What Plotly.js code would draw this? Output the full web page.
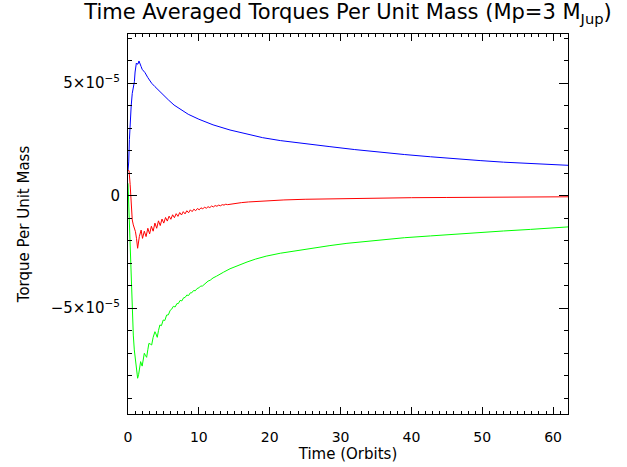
<!DOCTYPE html>
<html>
<head>
<meta charset="utf-8">
<script src="https://cdn.plot.ly/plotly-3.0.1.min.js"></script>
<style>html,body{margin:0;padding:0;background:#fff;}#chart{width:627px;height:467px;}</style>
</head>
<body>
<div id="chart"></div>
<script>
// Time in orbits, torques in units of 1e-5
const blueT = [0, 0.1, 0.2, 0.3, 0.45, 0.6, 0.75, 0.9, 1.0, 1.08, 1.18, 1.27, 1.4, 1.55, 1.7, 1.84, 2.0, 2.16, 2.4, 2.8, 3.34, 3.8, 4.28, 5.0, 5.7, 6.5, 7.34, 8.5, 10, 12, 14.4, 17, 19, 21.5, 25, 28.5, 32, 35.6, 39, 42.7, 46, 49.7, 53, 56.8, 60, 62.1];
const blueV = [1.1, 1.5, 2.5, 3.4, 4.0, 4.55, 4.8, 5.07, 5.5, 5.77, 5.9, 5.86, 5.85, 5.99, 5.9, 5.75, 5.62, 5.56, 5.47, 5.25, 5.0, 4.85, 4.70, 4.45, 4.26, 4.03, 3.85, 3.62, 3.40, 3.15, 2.92, 2.72, 2.58, 2.45, 2.30, 2.18, 2.05, 1.93, 1.83, 1.73, 1.64, 1.56, 1.49, 1.43, 1.38, 1.35];

const redT = [0, 0.15, 0.3, 0.45, 0.6, 0.75, 0.9, 1.05, 1.2, 1.36, 1.6, 1.85, 2.05, 2.3, 2.55, 2.8, 3.05, 3.3, 3.55, 3.8, 4.05, 4.3, 4.55, 4.8, 5.05, 5.3, 5.55, 5.8, 6.05, 6.3, 6.55, 6.8, 7.05, 7.3, 7.55, 7.8, 8.05, 8.3, 8.55, 8.8, 9.05, 9.3, 9.55, 9.8, 10.05, 10.3, 10.55, 10.8, 11.05, 11.3, 11.55, 11.8, 12.05, 12.3, 12.55, 12.8, 13.05, 13.3, 13.55, 13.8, 14.05, 15, 16, 17, 18, 19, 20, 22, 25, 28, 32, 36, 40, 45, 50, 55, 62.1];
const redV = [1.15, 1.1, 0.5, -0.4, -1.08, -1.3, -1.45, -1.6, -1.9, -2.34, -1.82, -1.53, -1.90, -1.58, -1.82, -1.45, -1.70, -1.36, -1.58, -1.22, -1.45, -1.12, -1.33, -1.04, -1.22, -0.97, -1.13, -0.91, -1.05, -0.85, -0.98, -0.80, -0.92, -0.75, -0.86, -0.71, -0.81, -0.67, -0.76, -0.63, -0.71, -0.60, -0.67, -0.57, -0.63, -0.54, -0.59, -0.51, -0.56, -0.49, -0.53, -0.46, -0.50, -0.44, -0.47, -0.42, -0.45, -0.40, -0.42, -0.38, -0.40, -0.35, -0.31, -0.28, -0.26, -0.24, -0.22, -0.19, -0.16, -0.14, -0.12, -0.10, -0.09, -0.08, -0.07, -0.06, -0.05];

const greenT = [0, 0.15, 0.3, 0.42, 0.6, 0.75, 0.89, 1.0, 1.13, 1.25, 1.36, 1.5, 1.6, 1.78, 2.0, 2.15, 2.3, 2.45, 2.63, 2.8, 2.95, 3.15, 3.34, 3.55, 3.8, 3.95, 4.13, 4.3, 4.5, 4.72, 4.97, 5.2, 5.45, 5.7, 5.95, 6.16, 6.4, 6.65, 6.9, 7.1, 7.35, 7.6, 7.85, 8.05, 8.3, 8.55, 8.8, 9.0, 9.25, 9.5, 9.75, 10.0, 10.25, 10.5, 10.75, 11.0, 11.3, 11.6, 12.0, 12.5, 13, 13.5, 14.4, 15.5, 16.8, 18, 19.5, 21.5, 24, 26.2, 28.5, 30.9, 33, 35.6, 39, 42.7, 46, 49.7, 53, 56.8, 60, 62.1];
const greenV = [0.55, -1.0, -2.5, -3.2, -5.09, -6.2, -6.86, -7.2, -7.61, -7.9, -8.12, -7.95, -7.75, -7.38, -7.58, -7.3, -7.01, -7.1, -7.19, -6.85, -6.57, -6.6, -6.64, -6.3, -6.05, -6.15, -6.3, -6.0, -5.75, -5.78, -5.53, -5.55, -5.31, -5.3, -5.1, -5.05, -4.92, -4.95, -4.8, -4.8, -4.66, -4.68, -4.54, -4.53, -4.42, -4.44, -4.32, -4.32, -4.22, -4.23, -4.13, -4.10, -4.02, -4.02, -3.94, -3.88, -3.80, -3.76, -3.66, -3.58, -3.48, -3.40, -3.25, -3.10, -2.95, -2.82, -2.69, -2.56, -2.43, -2.33, -2.22, -2.12, -2.05, -1.97, -1.87, -1.79, -1.71, -1.63, -1.57, -1.50, -1.44, -1.39];

const scale = 1e-5;
const yTickVals = [-5e-5, 0, 5e-5];
const yTickText = ['\u22125\u00d710<sup>\u22125</sup>', '0', '5\u00d710<sup>\u22125</sup>'];
const xTickVals = [0, 10, 20, 30, 40, 50, 60];
const xTickText = ['0', '10', '20', '30', '40', '50', '60'];

const mk = (t, v, c) => ({x: t, y: v.map(d => d * scale), type: 'scatter', mode: 'lines', line: {color: c, width: 1}, hoverinfo: 'skip'});
const data = [mk(blueT, blueV, '#0000ff'), mk(redT, redV, '#ff0000'), mk(greenT, greenV, '#00ff00')];

const font = {family: 'DejaVu Sans, sans-serif', color: '#000'};
const layout = {
  width: 627, height: 467,
  margin: {l: 128, r: 59, t: 34, b: 53},
  paper_bgcolor: '#fff', plot_bgcolor: '#fff',
  showlegend: false,
  font: Object.assign({size: 14}, font),
  title: {text: 'Time Averaged Torques Per Unit Mass (Mp=3 M<sub>Jup</sub>)', font: Object.assign({size: 21}, font),
          xref: 'paper', x: 0.5, xanchor: 'center', yref: 'container', y: 1 - 12/467, yanchor: 'middle'},
  xaxis: {
    range: [0, 62.1], showgrid: false, zeroline: false,
    showline: true, linecolor: '#000', linewidth: 1, mirror: 'allticks',
    ticks: 'inside', ticklen: 7, tickwidth: 1, tickcolor: '#000',
    tickvals: xTickVals, ticktext: xTickText, ticklabelstandoff: 10,
    tickfont: Object.assign({size: 14}, font),
    minor: {dtick: 1, tick0: 0, ticks: 'inside', ticklen: 3, tickwidth: 1, tickcolor: '#000', showgrid: false},
    title: {text: 'Time (Orbits)', font: Object.assign({size: 15}, font), standoff: 4}
  },
  yaxis: {
    range: [-9.71e-5, 7.19e-5], showgrid: false, zeroline: false,
    showline: true, linecolor: '#000', linewidth: 1, mirror: 'allticks',
    ticks: 'inside', ticklen: 9, tickwidth: 1, tickcolor: '#000',
    tickvals: yTickVals, ticktext: yTickText, ticklabelstandoff: 4,
    tickfont: Object.assign({size: 15}, font),
    minor: {dtick: 1e-5, tick0: 0, ticks: 'inside', ticklen: 4, tickwidth: 1, tickcolor: '#000', showgrid: false},
    title: {text: 'Torque Per Unit Mass', font: Object.assign({size: 15}, font), standoff: 17}
  }
};
Plotly.newPlot('chart', data, layout, {displayModeBar: false, staticPlot: true});
</script>
</body>
</html>
